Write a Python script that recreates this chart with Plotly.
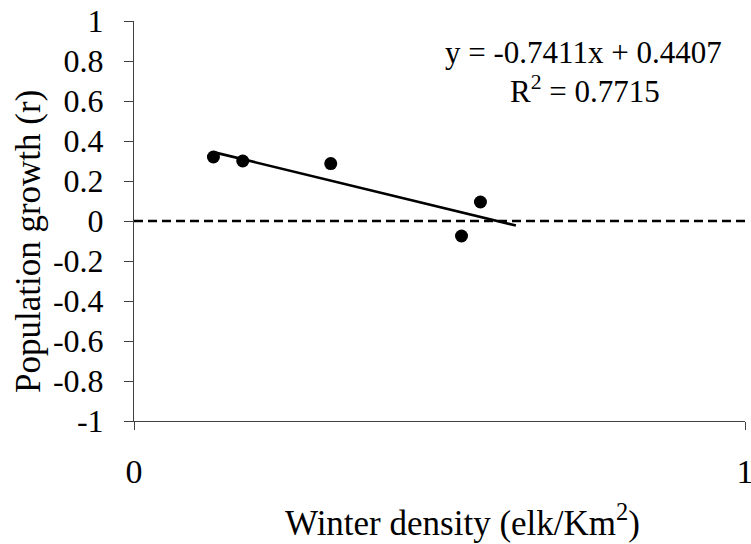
import plotly.graph_objects as go

# Data
density = [0.130, 0.178, 0.322, 0.536, 0.567]
growth = [0.32, 0.30, 0.287, -0.075, 0.095]
slope = -0.7411
intercept = 0.4407
r_squared = 0.7715
trend_x_end = 0.625

y_ticks = [1, 0.8, 0.6, 0.4, 0.2, 0, -0.2, -0.4, -0.6, -0.8, -1]
y_tick_labels = ["1", "0.8", "0.6", "0.4", "0.2", "0", "-0.2", "-0.4", "-0.6", "-0.8", "-1"]
x_ticks = [0, 1]
x_tick_labels = ["0", "1"]

FONT = "Liberation Serif, Times New Roman, serif"
FS_YTICK = 32
FS_XTICK = 34
FS_EQ = 31
FS_YT = 35
FS_XT = 35

trend_x = [min(density), trend_x_end]
trend_y = [slope * v + intercept for v in trend_x]

W, H = 751, 544
L, R, T, B = 134, 6, 21, 123
PW, PH = W - L - R, H - T - B


def px(xp):
    return (xp - L) / PW


def py(yp):
    return (H - B - yp) / PH


fig = go.Figure()
fig.add_trace(go.Scatter(x=[0, 1], y=[0, 0], mode="lines",
                         line=dict(color="black", width=2.5, dash="9px,5px"),
                         hoverinfo="skip", showlegend=False))
fig.add_trace(go.Scatter(x=trend_x, y=trend_y, mode="lines",
                         line=dict(color="black", width=2.6),
                         showlegend=False))
fig.add_trace(go.Scatter(x=density, y=growth, mode="markers",
                         marker=dict(color="black", size=13),
                         showlegend=False))

fig.update_layout(
    width=W, height=H,
    margin=dict(l=L, r=R, t=T, b=B, autoexpand=False),
    paper_bgcolor="white", plot_bgcolor="white",
    font=dict(family=FONT, size=FS_YTICK, color="black"),
    showlegend=False,
    xaxis=dict(range=[0, 1], tickvals=x_ticks, ticktext=x_tick_labels,
               showgrid=False, zeroline=False, showline=True,
               linecolor="#404040", linewidth=1, automargin=False,
               ticks="outside", ticklen=8, tickcolor="#404040",
               ticklabelstandoff=12, ticklabeloverflow="allow",
               tickfont=dict(family=FONT, size=FS_XTICK, color="black"),
               fixedrange=True),
    yaxis=dict(range=[-1, 1], tickvals=y_ticks, ticktext=y_tick_labels,
               showgrid=False, zeroline=False, showline=True,
               linecolor="#404040", linewidth=1, automargin=False,
               ticks="outside", ticklen=9, tickcolor="#404040",
               ticklabelstandoff=14, ticklabeloverflow="allow",
               tickfont=dict(family=FONT, size=FS_YTICK, color="black"),
               fixedrange=True),
    annotations=[
        dict(text=f"y = {slope}x + {intercept}", xref="paper", yref="paper",
             x=px(583), y=py(53), xanchor="center", yanchor="middle",
             showarrow=False, font=dict(family=FONT, size=FS_EQ)),
        dict(text=f"R<sup>2</sup> = {r_squared}", xref="paper", yref="paper",
             x=px(585), y=py(89), xanchor="center", yanchor="middle",
             showarrow=False, font=dict(family=FONT, size=FS_EQ)),
        dict(text="Winter density (elk/Km<sup>2</sup>)", xref="paper", yref="paper",
             x=px(462), y=py(520), xanchor="center", yanchor="middle",
             showarrow=False, font=dict(family=FONT, size=FS_XT)),
        dict(text="Population growth (r)", xref="paper", yref="paper",
             x=px(28), y=py(242), xanchor="center", yanchor="middle",
             textangle=-90, showarrow=False, font=dict(family=FONT, size=FS_YT)),
    ],
)

# remove the default page margin so the figure sits at the window's corner
fig.write_html("out.html",
               config={"displayModeBar": False, "staticPlot": True},
               post_script="document.body.style.margin='0';document.body.style.overflow='hidden';")
